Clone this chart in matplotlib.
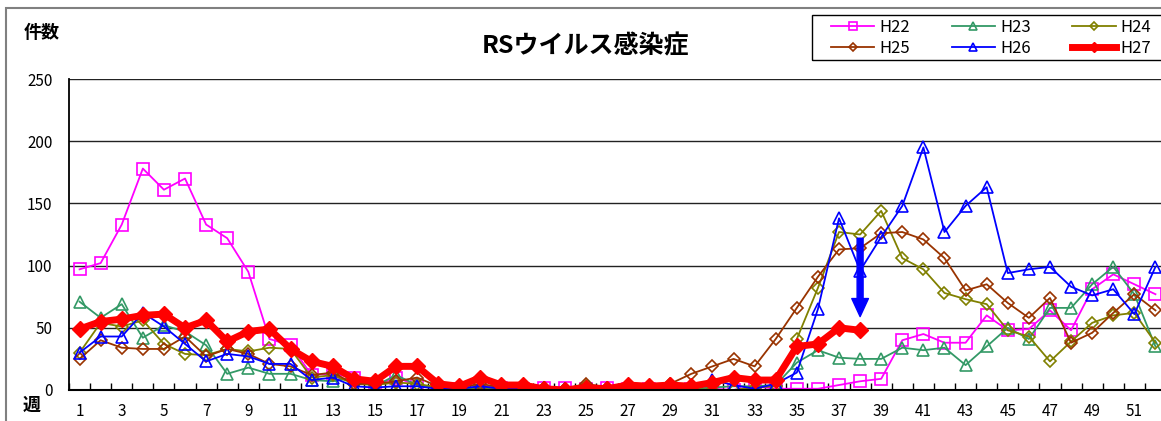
import matplotlib
matplotlib.use('Agg')
import matplotlib.pyplot as plt
from matplotlib.patches import Rectangle

plt.rcParams['font.family'] = ['Noto Sans CJK JP', 'DejaVu Sans']

weeks = list(range(1, 53))

h22 = [97, 102, 133, 178, 161, 170, 133, 122, 95, 41, 36, 12, 13, 10, 4, 10, 4, 1, 1, 3,
       2, 1, 2, 2, 1, 2, 1, 1, 1, 1, 1, 0, 3, 1, 1, 1, 4, 7, 9, 40,
       45, 38, 38, 60, 48, 49, 64, 48, 81, 93, 85, 77]
h23 = [71, 58, 69, 42, 52, 47, 36, 13, 18, 13, 13, 8, 7, 10, 3, 12, 4, 2, 1, 1,
       1, 2, 2, 1, 2, 1, 2, 2, 1, 1, 2, 3, 3, 4, 22, 32, 26, 25, 25, 34,
       32, 34, 20, 35, 50, 41, 66, 66, 85, 99, 77, 35]
h24 = [30, 54, 51, 56, 37, 29, 28, 33, 31, 34, 33, 10, 12, 5, 4, 6, 5, 2, 2, 2,
       2, 1, 2, 1, 3, 1, 2, 1, 2, 1, 0, 0, 2, 3, 41, 82, 127, 125, 144, 106,
       97, 78, 73, 69, 48, 43, 23, 39, 54, 60, 62, 38]
h25 = [25, 40, 34, 33, 33, 43, 27, 33, 29, 21, 19, 12, 14, 5, 5, 7, 10, 3, 2, 5,
       2, 2, 2, 1, 5, 2, 2, 2, 5, 13, 19, 25, 19, 41, 66, 91, 113, 114, 126, 127,
       121, 106, 80, 85, 70, 58, 74, 38, 46, 62, 77, 64]
h26 = [30, 43, 43, 62, 51, 37, 23, 29, 27, 21, 21, 8, 10, 3, 2, 3, 3, 1, 1, 3,
       1, 1, 1, 1, 1, 1, 1, 1, 1, 1, 8, 4, 1, 5, 14, 65, 138, 96, 123, 148,
       195, 127, 148, 163, 94, 97, 99, 83, 76, 81, 61, 99]
h27 = [49, 55, 57, 60, 61, 50, 56, 39, 47, 49, 33, 23, 19, 9, 7, 19, 19, 5, 3, 10,
       4, 4, 1, 0, 2, 1, 4, 3, 4, 3, 6, 10, 8, 8, 35, 37, 50, 48]

fig = plt.figure(figsize=(11.61, 4.21), dpi=100)
ax = fig.add_axes([69 / 1161, 31 / 421, 1097 / 1161, 311 / 421])

# outer frame of the chart area + legend box
fig.patches.append(Rectangle((6 / 1161, -0.1), 1.2, 1 - 8 / 421 + 0.1, transform=fig.transFigure,
                             fill=False, edgecolor='#808080', lw=1.5))
fig.patches.append(Rectangle((812 / 1161, 1 - 60 / 421), 0.5, 45 / 421, transform=fig.transFigure,
                             fill=False, edgecolor='black', lw=1))

l22, = ax.plot(weeks, h22, color='#FF00FF', lw=1.3, marker='s', ms=8, mfc='none', mew=1.2, label='H22')
l23, = ax.plot(weeks, h23, color='#339966', lw=1.3, marker='^', ms=8, mfc='none', mew=1.2, label='H23')
l24, = ax.plot(weeks, h24, color='#808000', lw=1.3, marker='D', ms=6, mfc='none', mew=1.2, label='H24')
l25, = ax.plot(weeks, h25, color='#993300', lw=1.3, marker='D', ms=6, mfc='none', mew=1.2, label='H25')
l26, = ax.plot(weeks, h26, color='#0000FF', lw=1.3, marker='^', ms=8, mfc='none', mew=1.2, label='H26')
l27, = ax.plot(weeks[:len(h27)], h27, color='#FF0000', lw=5, marker='D', ms=8, label='H27')

ax.annotate('', xy=(38, 59), xytext=(38, 122),
            arrowprops=dict(color='#0000FF', width=4.3, headwidth=12, headlength=13, shrink=0))

ax.set_xlim(0.5, 52.5)
ax.set_ylim(0, 250)
ax.set_xticks(range(1, 53, 2))
ax.set_xticks([w + 0.5 for w in range(0, 53)], minor=True)
ax.tick_params(axis='x', which='major', length=0, pad=9, labelsize=11)
ax.tick_params(axis='x', which='minor', direction='in', length=5, width=1, color='black')
ax.set_yticks(range(0, 251, 50))
ax.tick_params(axis='y', length=0, pad=12, labelsize=11)
ax.yaxis.grid(True, color='#222222', lw=1)
ax.set_axisbelow(True)
for s in ['top', 'right']:
    ax.spines[s].set_visible(False)
ax.spines['left'].set_linewidth(1.3)
ax.spines['bottom'].set_linewidth(1.5)

fig.text(42 / 1161, 1 - 32 / 421, '件数', ha='center', va='center', fontsize=13, fontweight='bold')
fig.text(32 / 1161, 1 - 405 / 421, '週', ha='center', va='center', fontsize=13, fontweight='bold')
fig.text(585 / 1161, 1 - 46 / 421, 'RSウイルス感染症', ha='center', va='center', fontsize=18, fontweight='bold')

handles = [l22, l25, l23, l26, l24, l27]
leg = fig.legend(handles=handles, labels=[h.get_label() for h in handles], ncol=3,
                 loc='upper left', bbox_to_anchor=(831 / 1161, 1 - 19 / 421),
                 frameon=False, fontsize=12, handlelength=2.6, borderaxespad=0, borderpad=0,
                 columnspacing=2.5, labelspacing=0.25, handletextpad=0.3,
                 markerscale=0.7)

fig.savefig('out.png', dpi=100)
